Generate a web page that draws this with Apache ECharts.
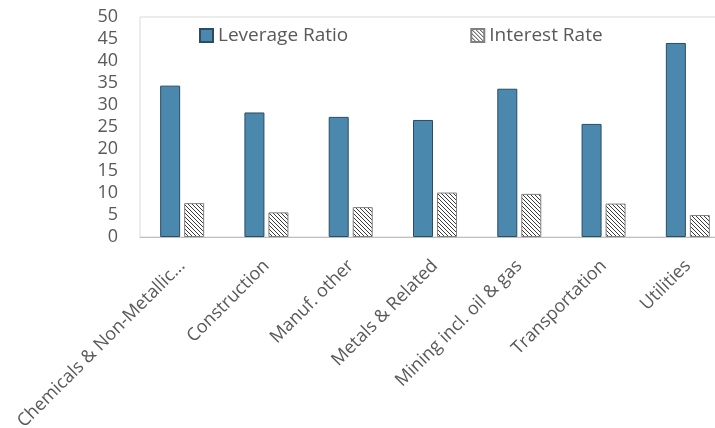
<!DOCTYPE html>
<html>
<head>
<meta charset="utf-8">
<script src="https://cdn.jsdelivr.net/npm/echarts@6/dist/echarts.min.js"></script>
<style>
  html, body { margin: 0; padding: 0; background: #fff; }
  #chart { width: 715px; height: 428px; }
</style>
</head>
<body>
<div id="chart"></div>
<script>
const categories = [
  'Chemicals & Non-Metallic...',
  'Construction',
  'Manuf. other',
  'Metals & Related',
  'Mining incl. oil & gas',
  'Transportation',
  'Utilities'
];
const leverageRatio = [34.4, 28.3, 27.3, 26.6, 33.7, 25.7, 44.1];
const interestRate = [7.7, 5.6, 6.8, 10.1, 9.8, 7.6, 5.0];
const yTicks = { min: 0, max: 50, interval: 5 };

// Diagonal hatch fill for the interest-rate bars
function hatch() {
  const c = document.createElement('canvas');
  c.width = 4; c.height = 4;
  const g = c.getContext('2d');
  g.fillStyle = '#ffffff';
  g.fillRect(0, 0, 4, 4);
  g.fillStyle = '#3a3a3a';
  for (let i = 0; i < 4; i++) g.fillRect(i, i, 1, 1);
  return c;
}
const hatchFill = { image: hatch(), repeat: 'repeat' };

const font = '"Open Sans", "Noto Sans", sans-serif';
const chart = echarts.init(document.getElementById('chart'), null, { renderer: 'canvas' });
chart.setOption({
  animation: false,
  textStyle: { fontFamily: font },
  grid: {
    left: 140, top: 17, height: 220, width: 590,
    outerBoundsMode: 'none', containLabel: false,
    show: true, borderColor: '#d9d9d9', borderWidth: 1
  },
  legend: {
    left: 194, top: 21,
    itemWidth: 13, itemHeight: 13, itemGap: 122,
    textStyle: { fontSize: 19, color: '#595959', fontFamily: font },
    data: [
      { name: 'Leverage Ratio', icon: 'rect' },
      { name: 'Interest Rate', icon: 'rect' }
    ]
  },
  xAxis: {
    type: 'category',
    data: categories,
    axisLine: { lineStyle: { color: '#bfbfbf', width: 1 } },
    axisTick: { inside: true, length: 7, lineStyle: { color: '#bfbfbf' } },
    axisLabel: {
      rotate: 45, interval: 0, margin: 26,
      fontSize: 18, color: '#595959', fontFamily: font
    }
  },
  yAxis: {
    type: 'value',
    min: yTicks.min, max: yTicks.max, interval: yTicks.interval,
    axisLine: { show: false },
    axisTick: { show: false },
    splitLine: { show: false },
    axisLabel: { fontSize: 18, color: '#595959', margin: 22, fontFamily: font }
  },
  series: [
    {
      name: 'Leverage Ratio', type: 'bar',
      data: leverageRatio,
      barWidth: 20, barGap: '20%',
      itemStyle: { color: '#4a89ad', borderColor: '#2b4c63', borderWidth: 1 }
    },
    {
      name: 'Interest Rate', type: 'bar',
      data: interestRate,
      barWidth: 20,
      itemStyle: { color: hatchFill, borderColor: '#808080', borderWidth: 1 }
    }
  ]
});
</script>
</body>
</html>
